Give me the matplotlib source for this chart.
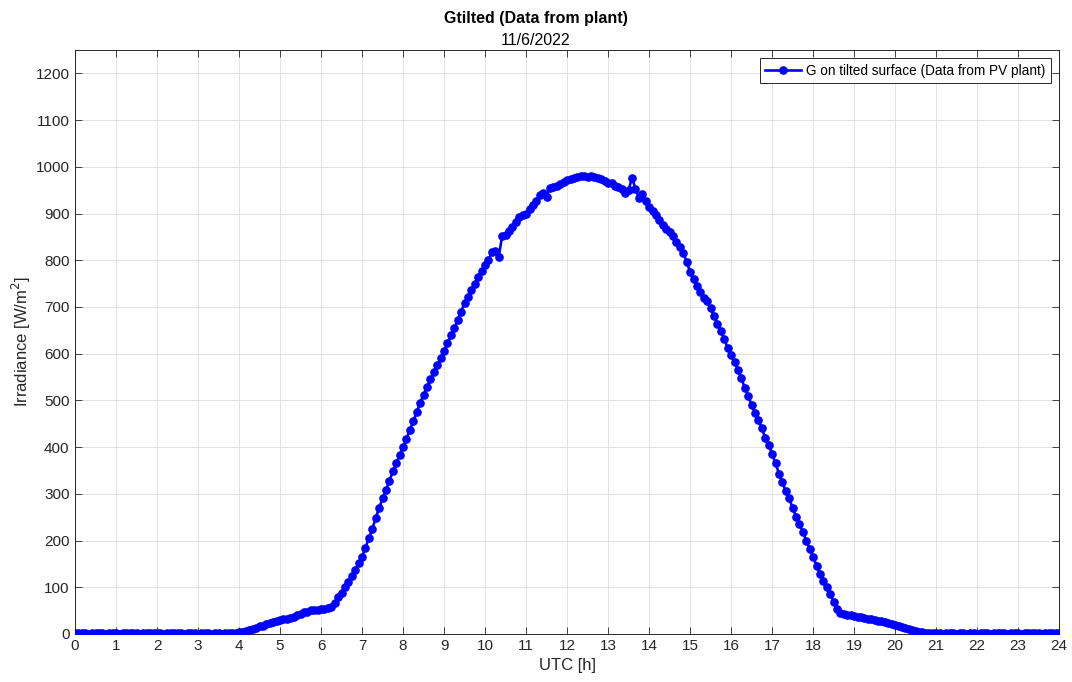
"""
Tilted-plane irradiance measured at the PV plant, 11/6/2022,
5-minute samples over the whole UTC day.
"""
import numpy as np
import matplotlib.pyplot as plt

plt.rcParams['font.family'] = ['Liberation Sans', 'DejaVu Sans']

# 5-minute samples, one row per hour (12 values), plus the 24:00 sample
G_TILTED = [
    # 00
    1, 2, 1, 1, 0, 1, 2, 1, 1, 0, 1, 1,
    # 01
    1, 0, 1, 2, 1, 1, 1, 0, 1, 1, 2, 1,
    # 02
    1, 1, 0, 1, 1, 2, 1, 1, 0, 1, 1, 1,
    # 03
    0, 1, 1, 1, 0, 1, 1, 0, 1, 1, 2, 3,
    # 04
    4, 5, 6, 8, 10, 13, 16, 18, 21, 23, 25, 27,
    # 05
    29, 31, 32, 34, 37, 40, 43, 46, 48, 51, 52, 52,
    # 06
    53, 54, 55, 58, 66, 78, 88, 100, 112, 124, 137, 151,
    # 07
    165, 185, 205, 225, 248, 270, 290, 308, 328, 348, 365, 383,
    # 08
    400, 418, 437, 455, 475, 495, 512, 528, 545, 560, 575, 590,
    # 09
    606, 622, 640, 655, 672, 690, 709, 722, 736, 750, 765, 778,
    # 10
    790, 800, 818, 819, 808, 852, 855, 862, 872, 882, 892, 896,
    # 11
    900, 910, 918, 928, 940, 945, 936, 955, 956, 959, 963, 968,
    # 12
    971, 974, 976, 978, 980, 980, 979, 980, 978, 976, 975, 970,
    # 13
    966, 965, 960, 957, 952, 944, 950, 977, 953, 934, 941, 928,
    # 14
    915, 905, 898, 887, 876, 868, 860, 852, 840, 828, 815, 797,
    # 15
    775, 760, 745, 732, 720, 712, 698, 680, 664, 648, 632, 612,
    # 16
    597, 582, 565, 547, 527, 510, 490, 473, 458, 440, 420, 405,
    # 17
    385, 366, 343, 325, 305, 290, 270, 251, 236, 218, 200, 182,
    # 18
    165, 146, 128, 113, 100, 85, 69, 53, 45, 43, 41, 40,
    # 19
    38, 37, 36, 34, 33, 31, 30, 28, 27, 26, 24, 22,
    # 20
    19, 17, 15, 13, 11, 9, 7, 5, 4, 3, 2, 2,
    # 21
    1, 1, 0, 1, 1, 1, 0, 1, 1, 0, 1, 1,
    # 22
    0, 1, 1, 1, 0, 1, 2, 1, 1, 0, 1, 1,
    # 23
    1, 0, 1, 1, 2, 1, 1, 0, 1, 1, 1, 2,
    # 24
    1,
]
UTC_HOURS = np.arange(len(G_TILTED)) / 12.0

X_TICKS = list(range(0, 25))
Y_TICKS = list(range(0, 1201, 100))

AX_COLOR = "#262626"

fig = plt.figure(figsize=(10.72, 6.82), dpi=100)
ax = fig.add_axes([0.070, 0.0705, 0.918, 0.856])

ax.plot(UTC_HOURS, G_TILTED, color="#0000FF", linewidth=1.9,
        marker="o", markersize=5.2, markerfacecolor="#0000FF",
        markeredgecolor="#0000FF",
        label="G on tilted surface (Data from PV plant)", zorder=3)

ax.set_xlim(0, 24)
ax.set_ylim(0, 1250)
ax.set_xticks(X_TICKS)
ax.set_yticks(Y_TICKS)
ax.tick_params(direction="in", length=5, width=0.6, colors=AX_COLOR,
               labelsize=11, top=True, right=True, pad=4)
ax.grid(True, color="#e3e3e3", linewidth=0.7)
ax.set_axisbelow(True)
for spine in ax.spines.values():
    spine.set_edgecolor(AX_COLOR)
    spine.set_linewidth(0.7)

ax.set_xlabel("UTC [h]", fontsize=12, color=AX_COLOR, labelpad=3)
ax.set_ylabel("Irradiance [W/m$^2$]", fontsize=12, color=AX_COLOR, labelpad=2)

fig.text(0.5, 0.973, "Gtilted (Data from plant)", ha="center", va="center",
         fontsize=11.5, fontweight="bold", color="black")
fig.text(0.5, 0.941, "11/6/2022", ha="center", va="center",
         fontsize=11.5, color="black")

leg = ax.legend(loc="upper right", fontsize=9.8, fancybox=False,
                framealpha=1, edgecolor=AX_COLOR, borderaxespad=0.6,
                handlelength=2.6, handletextpad=0.4, borderpad=0.4)
leg.get_frame().set_linewidth(0.7)

fig.savefig("out.png", dpi=100, facecolor="white")
